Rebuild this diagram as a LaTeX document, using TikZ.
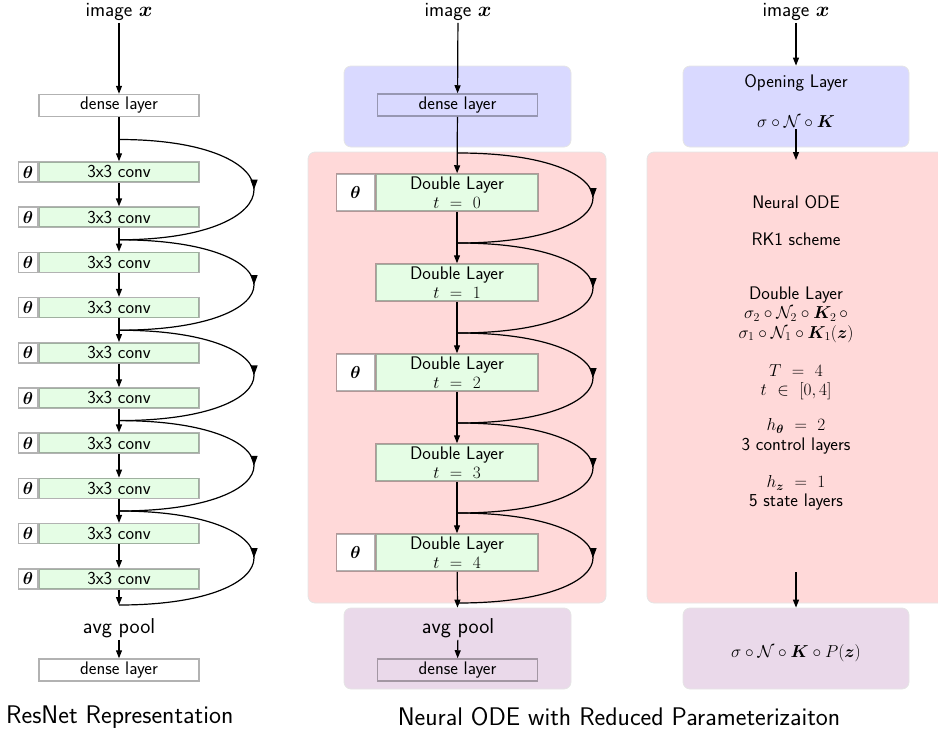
\documentclass[tikz,border=0pt]{standalone}
\usepackage{amsmath,amssymb,bm}
\usepackage{tikz}
\usetikzlibrary{arrows.meta}
\usetikzlibrary{decorations.markings}
\definecolor{bgblue}{RGB}{217,217,255}
\definecolor{bgred}{RGB}{255,217,217}
\definecolor{bgpurple}{RGB}{234,217,234}
\definecolor{convgreen}{RGB}{229,253,229}
\newcommand{\boxfont}{\fontsize{18.2}{19.5}\selectfont\sffamily}
\newcommand{\bigfont}{\fontsize{21.5}{24}\selectfont\sffamily}
\newcommand{\imgfont}{\fontsize{20.3}{24}\selectfont\sffamily}
\newcommand{\titlefont}{\fontsize{25.5}{28}\selectfont\sffamily}
\tikzset{
  flow/.style={line width=1.2pt,-{Triangle[length=8pt,width=6pt]}},
  skipline/.style={line width=1.2pt,postaction={decorate},
    decoration={markings,mark=at position 0.5 with {\arrow{Triangle[length=10pt,width=7pt]}}}},
  layerbox/.style={draw=black,draw opacity=0.3,line width=1.5pt,inner sep=0pt,font=\boxfont,align=center},
  densebox/.style={layerbox,minimum width=160pt,minimum height=22pt},
  convbox/.style={layerbox,fill=convgreen,minimum width=160pt,minimum height=20pt},
  thetabox/.style={layerbox,fill=white,minimum width=19pt,minimum height=20pt,anchor=east},
  dlbox/.style={layerbox,fill=convgreen,minimum width=162pt,minimum height=37pt},
  bigthetabox/.style={layerbox,fill=white,minimum width=38pt,minimum height=37pt,anchor=east},
  bgbox/.style={draw=black!10,line width=0.8pt,rounded corners=7pt,inner sep=0pt},
  plain/.style={font=\boxfont,align=center,inner sep=1pt},
  biglabel/.style={font=\bigfont,inner sep=2pt},
  imglabel/.style={font=\imgfont,inner sep=2pt},
}

\begin{document}
\begin{tikzpicture}[x=1pt,y=-1pt]
  \useasboundingbox (0,0) rectangle (938,750);

  %backgrounds
  \node[bgbox,fill=bgblue,minimum width=227pt,minimum height=81pt] (openbgB) at (457.5,106.5) {};
  \node[bgbox,fill=bgred,minimum width=298pt,minimum height=451pt] (odebgB) at (457,377.5) {};
  \node[bgbox,fill=bgpurple,minimum width=227pt,minimum height=81pt] (poolbgB) at (457.5,648.5) {};
  \node[bgbox,fill=bgblue,minimum width=226pt,minimum height=81pt] (openbgC) at (796,106.5) {};
  \node[bgbox,fill=bgred,minimum width=303pt,minimum height=451pt] (odebgC) at (798.5,377.5) {};
  \node[bgbox,fill=bgpurple,minimum width=226pt,minimum height=81pt] (poolbgC) at (796,648.5) {};

  %resnet
  \node[imglabel] (imgA) at (119,12) {image $\bm{x}$};
  \node[densebox] (denseA) at (119,105.5) {dense layer};
  \foreach \i in {1,...,10}{
    \pgfmathsetmacro{\yy}{172+45.2*(\i-1)}
    \node[convbox] (convA\i) at (119,\yy) {3x3 conv};
    \node[thetabox] (thA\i) at (convA\i.west) {$\bm{\theta}$};
  }
  \coordinate (jA0) at (119,139.5);
  \foreach \k in {1,...,4}{
    \pgfmathsetmacro{\yy}{172+45.2*(2*\k-0.5)}
    \coordinate (jA\k) at (119,\yy);
  }
  \coordinate (jA5) at (119,605);
  \node[biglabel] (avgA) at (119,628) {avg pool};
  \node[densebox] (outA) at (119,670) {dense layer};

  \draw[flow] (imgA) -- (denseA);
  \draw[flow] (denseA) -- (convA1);
  \foreach \i [evaluate=\i as \j using int(\i+1)] in {1,...,9}
    \draw[flow] (convA\i) -- (convA\j);
  \draw[flow] (convA10) -- (jA5);
  \foreach \k [evaluate=\k as \n using int(\k+1)] in {0,...,4}
    \draw[skipline] (jA\k) .. controls +(180,0) and +(180,0) .. (jA\n);
  \draw[flow] (avgA) -- (outA);

  %neural ode
  \node[imglabel] (imgB) at (458,12) {image $\bm{x}$};
  \node[densebox] (denseB) at (457.5,105) {dense layer};
  \foreach \i [evaluate=\i as \t using int(\i-1)] in {1,...,5}{
    \pgfmathsetmacro{\yy}{192.5+90*(\i-1)}
    \node[dlbox] (dlB\i) at (457,\yy) {Double Layer\\[-1pt]$t\ =\ \t$};
  }
  \foreach \i in {1,3,5}
    \node[bigthetabox] (thB\i) at (dlB\i.west) {$\bm{\theta}$};
  \foreach \k in {0,...,5}{
    \pgfmathsetmacro{\yy}{153+90*\k}
    \coordinate (jB\k) at (458,\yy);
  }
  \node[biglabel] (avgB) at (458,628) {avg pool};
  \node[densebox] (outB) at (457.5,670) {dense layer};

  \draw[flow] (imgB) -- (denseB);
  \draw[flow] (denseB) -- (dlB1);
  \foreach \i [evaluate=\i as \j using int(\i+1)] in {1,...,4}
    \draw[flow] (dlB\i) -- (dlB\j);
  \draw[flow] (dlB5) -- (poolbgB.north);
  \foreach \k [evaluate=\k as \n using int(\k+1)] in {0,...,4}
    \draw[skipline] (jB\k) .. controls +(180,0) and +(180,0) .. (jB\n);
  \draw[flow] (avgB) -- (outB);

  %formulas
  \node[imglabel] (imgC) at (796,12) {image $\bm{x}$};
  \node[plain] (openC) at (796,83) {Opening Layer};
  \node[plain] (openK) at (796,122) {$\sigma\circ\mathcal{N}\circ\bm{K}$};
  \coordinate (odeTopC) at (796,160);
  \node[plain] (odeC) at (796,202) {Neural ODE};
  \node[plain] (rkC) at (796,239) {RK1 scheme};
  \node[plain] (dlC) at (796,314.5) {Double Layer\\
    $\sigma_2\circ\mathcal{N}_2\circ\bm{K}_2\,\circ$\\
    $\sigma_1\circ\mathcal{N}_1\circ\bm{K}_1(\bm{z})$};
  \node[plain] (timeC) at (796,382) {$T\ =\ 4$\\$t\ \in\ [0,4]$};
  \node[plain] (ctrlC) at (796,436.5) {$h_{\bm{\theta}}\ =\ 2$\\3 control layers};
  \node[plain] (stateC) at (796,493) {$h_{\bm{z}}\ =\ 1$\\5 state layers};
  \coordinate (odeEndC) at (796,572);
  \node[plain] (projC) at (796,653) {$\sigma\circ\mathcal{N}\circ\bm{K}\circ P(\bm{z})$};

  \draw[flow] (imgC) -- (openbgC.north);
  \draw[flow] (openK) -- (odeTopC);
  \draw[flow] (odeEndC) -- (poolbgC.north);

  %titles
  \node[font=\titlefont,anchor=west,inner sep=0pt] (titleA) at (6,717) {ResNet Representation};
  \node[font=\titlefont,inner sep=0pt] (titleB) at (619,717) {Neural ODE with Reduced Parameterizaiton};
\end{tikzpicture}
\end{document}
